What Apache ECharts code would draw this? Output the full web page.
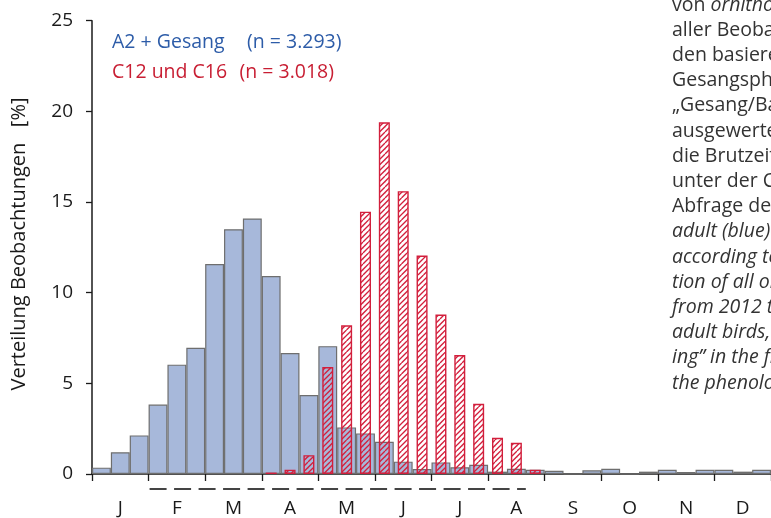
<!DOCTYPE html>
<html><head><meta charset="utf-8">
<script src="https://cdn.jsdelivr.net/npm/echarts@6/dist/echarts.min.js"></script>
<style>html,body{margin:0;padding:0;background:#fff}#c{width:771px;height:518px}</style>
</head><body><div id="c"></div>
<script>
// Month tick labels
const monthLabels = ['J','F','M','A','M','J','J','A','S','O','N','D'];
// 36 ten-day periods (Dekaden)
const periods = [
  'Jan I','Jan II','Jan III','Feb I','Feb II','Feb III','Mär I','Mär II','Mär III',
  'Apr I','Apr II','Apr III','Mai I','Mai II','Mai III','Jun I','Jun II','Jun III',
  'Jul I','Jul II','Jul III','Aug I','Aug II','Aug III','Sep I','Sep II','Sep III',
  'Okt I','Okt II','Okt III','Nov I','Nov II','Nov III','Dez I','Dez II','Dez III'
];
// A2 + Gesang (n = 3.293), percent per period
const blueValues = [
  0.35, 1.2, 2.13,  3.83, 6.03, 6.96,  11.58, 13.5, 14.09,
  10.92, 6.67, 4.36,  7.05, 2.57, 2.24,  1.78, 0.68, 0.27,
  0.64, 0.37, 0.51,  0.13, 0.29, 0.23,  0.18, 0, 0.2,
  0.29, 0, 0.13,  0.23, 0.11, 0.23,  0.23, 0.13, 0.23
];
// C12 und C16 (n = 3.018), percent per period
const redValues = [
  0, 0, 0,  0, 0, 0,  0, 0, 0,
  0.08, 0.24, 1.04,  5.9, 8.2, 14.47,  19.4, 15.6, 12.05,
  8.79, 6.56, 3.87,  2.0, 1.72, 0.24,  0, 0, 0,
  0, 0, 0,  0, 0, 0,  0, 0, 0
];
const yTicks = [0, 5, 10, 15, 20, 25];
const legendItems = [
  {name: 'A2 + Gesang', n: '(n = 3.293)'},
  {name: 'C12 und C16', n: '(n = 3.018)'}
];
const sideTextLines = [
  ['von ', 'ornitho.'], ['aller Beobac'], ['den basieren'], ['Gesangsph'], ['„Gesang/Ba'],
  ['ausgewerte'], ['die Brutzeit'], ['unter der Ch'], ['Abfrage der'],
  ['adult (blue)'], ['according to'], ['tion of all ob'], ['from 2012 to'],
  ['adult birds, '], ['ing” in the fi'], ['the phenolo']
];
const italicFrom = 9;

const BLUE = '#a7b8da', BLUE_BORDER = '#6e6e6e', RED = '#d21f3c';
const FONT = '"Open Sans", "Noto Sans", sans-serif';

function hatch(color) {
  const s = 11, c = document.createElement('canvas');
  c.width = s; c.height = s;
  const g = c.getContext('2d');
  g.strokeStyle = color; g.lineWidth = 1.3;
  for (const off of [-s, -s / 2, 0, s / 2, s]) {
    g.beginPath(); g.moveTo(off, s); g.lineTo(off + s, 0); g.stroke();
  }
  return c;
}

const chart = echarts.init(document.getElementById('c'), null, {renderer: 'canvas'});

const option = {
  animation: false,
  backgroundColor: '#fff',
  grid: {left: 92, top: 20.7, right: -2.6, bottom: 42.3, containLabel: false},
  xAxis: [{
    type: 'category', data: periods, boundaryGap: true,
    axisLine: {show: true, lineStyle: {color: '#1a1a1a', width: 1.5}},
    axisTick: {show: true, length: 7, interval: (i) => i % 3 === 0, lineStyle: {color: '#1a1a1a', width: 1.3}},
    axisLabel: {
      show: true, interval: (i) => i % 3 === 1, margin: 25,
      formatter: (v, i) => monthLabels[Math.floor(i / 3)],
      fontSize: 19, color: '#1a1a1a', fontFamily: FONT
    },
    splitLine: {show: false}
  }, {
    type: 'category', data: periods, boundaryGap: true, show: false
  }],
  yAxis: {
    type: 'value', min: yTicks[0], max: yTicks[yTicks.length - 1], interval: 5,
    axisLine: {show: true, lineStyle: {color: '#1a1a1a', width: 1.5}},
    axisTick: {show: true, length: 6, lineStyle: {color: '#1a1a1a', width: 1.3}},
    axisLabel: {fontSize: 19, color: '#1a1a1a', margin: 19, fontFamily: FONT},
    splitLine: {show: false}
  },
  series: [{
    type: 'bar', xAxisIndex: 0, data: blueValues, barWidth: '100%', barCategoryGap: 0,
    itemStyle: {color: BLUE, borderColor: BLUE_BORDER, borderWidth: 1.2},
    z: 2
  }, {
    type: 'bar', xAxisIndex: 1, data: redValues.map(v => v === 0 ? null : v), barWidth: 11,
    itemStyle: {color: {image: hatch(RED), repeat: 'repeat'}, borderColor: RED, borderWidth: 1.4},
    z: 3
  }]
};
chart.setOption(option);

// graphics: legend texts, axis name, side caption, dashed breeding-period line
const binW = chart.getModel().getComponent('grid').coordinateSystem.getRect().width / periods.length;
const x0 = chart.convertToPixel({xAxisIndex: 0}, periods[3]) - binW / 2;
const x1 = chart.convertToPixel({xAxisIndex: 0}, periods[23]) - binW / 2;
const graphics = [];
graphics.push({type: 'line', shape: {x1: x0 + 1, y1: 489, x2: x1, y2: 489},
  style: {stroke: '#444', lineWidth: 2, lineDash: [17, 7.5]}, silent: true});
const legendColors = ['#2d5ca8', '#c81e33'];
const legendNX = [247, 239.5];
legendItems.forEach((it, k) => {
  graphics.push({type: 'text', x: 112, y: 42 + k * 30,
    style: {text: it.name, fill: legendColors[k], font: '19.5px ' + FONT, textVerticalAlign: 'middle'}});
  graphics.push({type: 'text', x: legendNX[k], y: 42 + k * 30,
    style: {text: it.n, fill: legendColors[k], font: '19.5px ' + FONT, textVerticalAlign: 'middle'}});
});
graphics.push({type: 'text', x: 19, y: 244, rotation: Math.PI / 2,
  style: {text: 'Verteilung Beobachtungen   [%]', fill: '#1a1a1a', font: '20px ' + FONT,
    textAlign: 'center', textVerticalAlign: 'middle'}});
sideTextLines.forEach((parts, k) => {
  const italic = k >= italicFrom;
  let text, rich = {};
  if (parts.length === 2) {
    text = '{n|' + parts[0] + '}{i|' + parts[1] + '}';
    rich = {n: {font: '19.5px ' + FONT, fill: '#333'}, i: {font: 'italic 19.5px ' + FONT, fill: '#333'}};
  } else text = parts[0];
  graphics.push({type: 'text', x: 672, y: 5 + k * 25.2,
    style: {text: text, rich: rich, fill: '#333', font: (italic ? 'italic ' : '') + '19.5px ' + FONT,
      textVerticalAlign: 'middle'}});
});
chart.setOption({graphic: graphics});
</script></body></html>
